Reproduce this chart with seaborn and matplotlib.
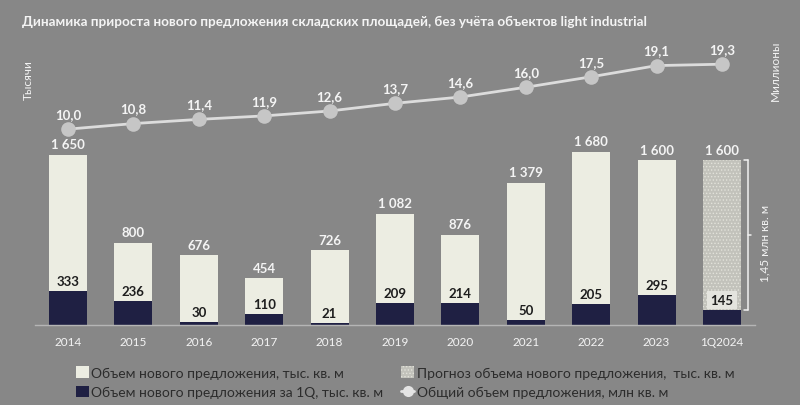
import numpy as np
import pandas as pd
import matplotlib
matplotlib.use("Agg")
import matplotlib.pyplot as plt
import seaborn as sns
from matplotlib.patches import Patch
from matplotlib.lines import Line2D

categories = ["2014", "2015", "2016", "2017", "2018", "2019", "2020", "2021", "2022", "2023", "1Q2024"]
total_new = [1650, 800, 676, 454, 726, 1082, 876, 1379, 1680, 1600, 1600]
q1_new = [333, 236, 30, 110, 21, 209, 214, 50, 205, 295, 145]
total_stock = [10.0, 10.8, 11.4, 11.9, 12.6, 13.7, 14.6, 16.0, 17.5, 19.1, 19.3]
total_labels = ["1 650", "800", "676", "454", "726", "1 082", "876", "1 379", "1 680", "1 600", "1 600"]
stock_labels = ["10,0", "10,8", "11,4", "11,9", "12,6", "13,7", "14,6", "16,0", "17,5", "19,1", "19,3"]

sns.set_theme(style="white")
plt.rcParams["font.family"] = ["Lato", "DejaVu Sans"]
plt.rcParams["hatch.linewidth"] = 0.6

BG = "#878787"
LIGHT = "#ecede2"
DARK = "#1f2043"
TXT = "#f4f4f4"
LEG_TXT = "#2c2c2c"
FC_FILL = "#c2c2bb"
FC_HATCH = "#e2e2da"

fig = plt.figure(figsize=(8, 4.06), dpi=100, facecolor=BG)
ax = fig.add_axes([0.0441, 0.197, 0.8993, 0.704])
ax.set_facecolor(BG)

df = pd.DataFrame({"cat": categories, "total": total_new, "q1": q1_new, "stock": total_stock})

sns.barplot(data=df, x="cat", y="total", color=LIGHT, width=0.58, saturation=1,
            linewidth=0, ax=ax)
fc = ax.patches[len(ax.patches) - 1]
fc.set_facecolor(FC_FILL)
fc.set_hatch(".....")
fc.set_edgecolor(FC_HATCH)
fc.set_linewidth(0)
sns.barplot(data=df, x="cat", y="q1", color=DARK, width=0.58, saturation=1,
            linewidth=0, ax=ax)

ax.set_ylim(0, 2776)
ax.set_xlim(-0.5, len(categories) - 0.5)
for s in ["top", "left", "right"]:
    ax.spines[s].set_visible(False)
ax.spines["bottom"].set_color("#b5b5b5")
ax.spines["bottom"].set_linewidth(1)
ax.set_yticks([])
ax.set_xlabel("")
ax.set_ylabel("")
ax.tick_params(axis="x", which="major", length=0, pad=8, labelsize=8.5, colors=TXT)
ax.set_xticks(np.arange(len(categories) + 1) - 0.5, minor=True)
ax.tick_params(axis="x", which="minor", length=5, direction="inout", color="#b5b5b5")

for i, (tv, lab) in enumerate(zip(total_new, total_labels)):
    ax.text(i, tv + 45, lab, ha="center", va="bottom", fontsize=9.5, color=TXT, fontweight="bold")
for i, qv in enumerate(q1_new):
    kw = {}
    if i == len(categories) - 1:
        kw["bbox"] = dict(boxstyle="square,pad=0.25", facecolor="#e4e4de", edgecolor="none")
    ax.text(i, qv + 40, str(qv), ha="center", va="bottom", fontsize=9.5, color="#1e1e1e",
            fontweight="bold", **kw)

# bracket
bx = 10.40
ax.plot([bx, bx], [145, 1600], color="#f0f0f0", lw=1.1, clip_on=False)
ax.plot([bx - 0.06, bx], [1600, 1600], color="#f0f0f0", lw=1.1, clip_on=False)
ax.plot([bx - 0.06, bx], [145, 145], color="#f0f0f0", lw=1.1, clip_on=False)
ax.plot([bx, bx + 0.05], [872, 872], color="#f0f0f0", lw=1.1, clip_on=False)
ax.text(10.65, 800, "1,45 млн кв. м", rotation=90, ha="center", va="center",
        fontsize=8.5, color=TXT, clip_on=False)

ax2 = ax.twinx()
sns.lineplot(data=df.assign(xi=np.arange(len(categories))), x="xi", y="stock", ax=ax2,
             color="#dcdcdc", linewidth=2, marker="o", markersize=10.5,
             markerfacecolor="#c6c6c6", markeredgewidth=0)
ax2.set_ylim(-18.04, 22.88)
ax2.set_xlim(-0.5, len(categories) - 0.5)
ax2.axis("off")
for i, (sv, lab) in enumerate(zip(total_stock, stock_labels)):
    ax2.text(i, sv + 1.3, lab, ha="center", va="bottom", fontsize=9.5, color=TXT, fontweight="bold")

fig.text(0.028, 0.946, "Динамика прироста нового предложения складских площадей, без учёта объектов light industrial",
         fontsize=9.75, fontweight="bold", color=TXT, ha="left", va="center")
fig.text(0.036, 0.803, "Тысячи", rotation=90, fontsize=8.5, color=TXT, ha="center", va="center")
fig.text(0.969, 0.825, "Миллионы", rotation=90, fontsize=8.5, color=TXT, ha="center", va="center")

handles = [
    Patch(facecolor=LIGHT, edgecolor="none"),
    Patch(facecolor=DARK, edgecolor="none"),
    Patch(facecolor=FC_FILL, edgecolor=FC_HATCH, hatch=".....", linewidth=0),
    Line2D([0], [0], color="#e4e4e4", lw=2, marker="o", markersize=8,
           markerfacecolor="#e4e4e4", markeredgewidth=0),
]
labels = [
    "Объем нового предложения, тыс. кв. м",
    "Объем нового предложения за 1Q, тыс. кв. м",
    "Прогноз объема нового предложения,  тыс. кв. м",
    "Общий объем предложения, млн кв. м",
]
leg = fig.legend(handles, labels, ncol=2, loc="upper left", bbox_to_anchor=(0.095, 0.095),
                 frameon=False, handlelength=0.9, handleheight=0.9, borderpad=0, borderaxespad=0,
                 handletextpad=0.2, columnspacing=1.3, labelspacing=0.5,
                 prop={"family": ["Lato", "DejaVu Sans"], "size": 10})
for t in leg.get_texts():
    t.set_color(LEG_TXT)

fig.savefig("out.png", dpi=100, facecolor=BG)
